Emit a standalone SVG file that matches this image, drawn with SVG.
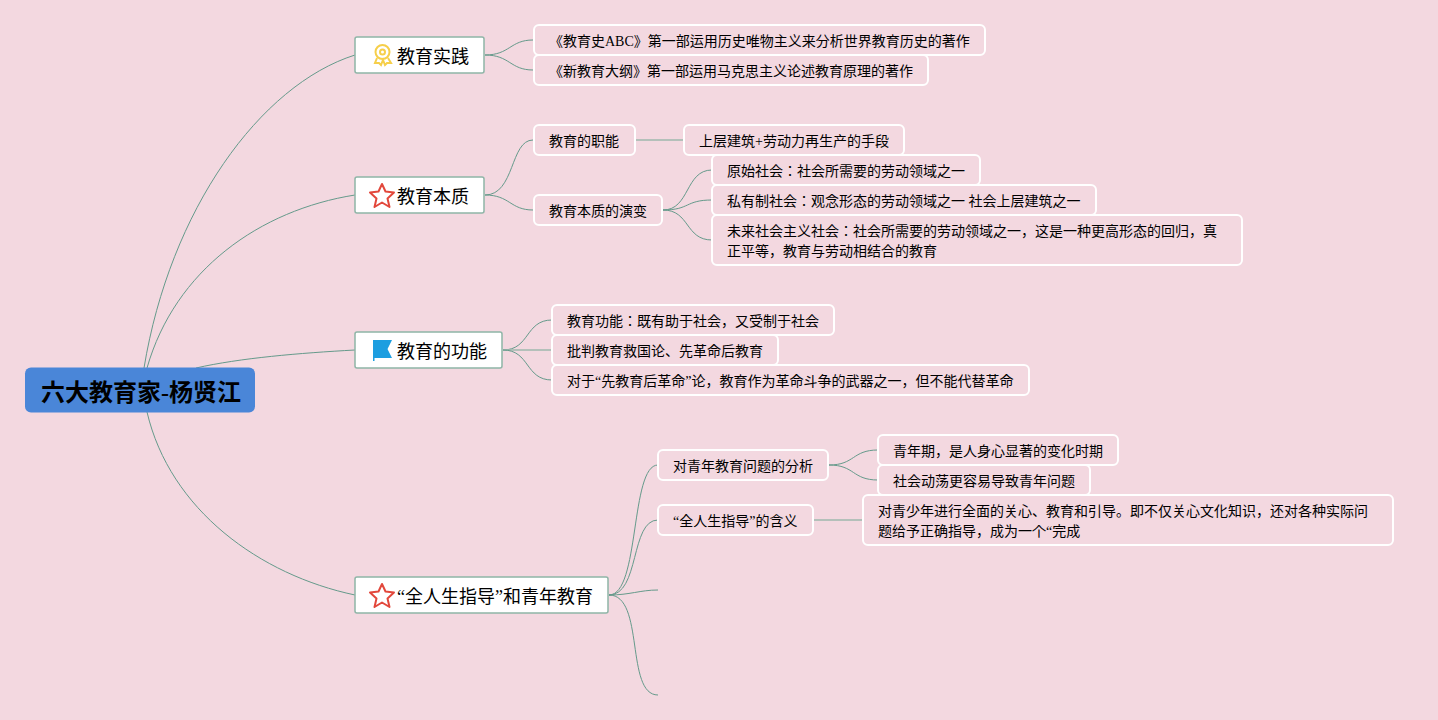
<svg xmlns="http://www.w3.org/2000/svg" width="1438" height="720" viewBox="0 0 1438 720">
<style>
text{font-family:"Liberation Serif","Noto Sans CJK JP","Noto Sans CJK SC",serif;fill:#000}
.root-t{font-size:24px;font-weight:700}
.main-t{font-size:18px}
.leaf-t{font-size:14px}
.main{fill:#fff;stroke:#8fb5a7;stroke-width:1.500}
.leaf{fill:#f3d8e0;stroke:#fff;stroke-width:2}
.c{fill:none;stroke:#659a8b;stroke-width:1}
.s{fill:none;stroke:#9fb8ae;stroke-width:1.500}
.star{fill:none;stroke:#e2483c;stroke-width:2;stroke-linejoin:round}
</style>
<rect width="1438" height="720" fill="#f3d8e0"/>
<g id="connectors">
<path class="c" d="M144 368C170 210 260 85 355 55"/>
<path class="c" d="M147 368C175 270 260 210 355 195"/>
<path class="c" d="M196 368C240 358 300 353 355 350"/>
<path class="c" d="M147 412C170 510 260 575 355 595"/>
<path class="c" d="M485 55C510 55 510 40 533 40"/>
<path class="c" d="M485 55C510 55 510 70 533 70"/>
<path class="c" d="M485 195C515 195 510 140 533 140"/>
<path class="c" d="M485 195C510 195 510 210 533 210"/>
<path class="s" d="M635 140H684"/>
<path class="c" d="M663 210C690 210 685 170 712 170"/>
<path class="c" d="M663 210C690 210 685 200 712 200"/>
<path class="c" d="M663 210C690 210 685 240 712 240"/>
<path class="c" d="M503 350C530 350 525 320 552 320"/>
<path class="s" d="M503 350H552"/>
<path class="c" d="M503 350C530 350 525 380 552 380"/>
<path class="c" d="M609 595C640 595 630 465 658 465"/>
<path class="c" d="M609 595C640 595 630 520 658 520"/>
<path class="c" d="M609 595C630 595 640 590 658 590"/>
<path class="c" d="M609 595C645 595 625 695 658 695"/>
<path class="c" d="M829 465C855 465 852 450 878 450"/>
<path class="c" d="M829 465C855 465 852 480 878 480"/>
<path class="s" d="M814 520H863"/>
</g>
<g id="root"><rect x="25" y="367.500" width="230" height="45" rx="6" fill="#4a86d8"/><text class="root-t" x="41" y="401">六大教育家-杨贤江</text></g>
<g id="n1"><rect class="main" x="355" y="37" width="129" height="36" rx="2"/>
<g fill="none" stroke="#f6cf4a" stroke-width="2"><circle cx="382.500" cy="52" r="7"/><circle cx="382.500" cy="52" r="2.500"/><path d="M377 58L375 63L379 63L381 65L383 60L385 65L387 63L391 63L388 58"/></g>
<text class="main-t" x="397" y="63">教育实践</text></g>
<g id="n2"><rect class="main" x="355" y="177" width="129" height="36" rx="2"/>
<path class="star" d="M382 184L385.500 191.500L394 192.500L387.500 198.500L389.500 207L382 202.500L374.500 207L376.500 198.500L370 192.500L378.500 191.500Z"/>
<text class="main-t" x="397" y="203">教育本质</text></g>
<g id="n3"><rect class="main" x="355" y="332" width="147" height="36" rx="2"/>
<path d="M373 340H392L387.500 349L392 358H374.500V361H373Z" fill="#1d9ee0"/>
<text class="main-t" x="397" y="358">教育的功能</text></g>
<g id="n4"><rect class="main" x="355" y="577" width="253" height="36" rx="2"/>
<path class="star" d="M382 584L385.500 591.500L394 592.500L387.500 598.500L389.500 607L382 602.500L374.500 607L376.500 598.500L370 592.500L378.500 591.500Z"/>
<text class="main-t" x="397" y="603">“全人生指导”和青年教育</text></g>
<g id="l1"><rect class="leaf" x="534" y="25" width="451" height="30" rx="5"/><text class="leaf-t" x="549" y="46">《教育史ABC》第一部运用历史唯物主义来分析世界教育历史的著作</text></g>
<g id="l2"><rect class="leaf" x="534" y="55" width="394" height="30" rx="5"/><text class="leaf-t" x="549" y="76">《新教育大纲》第一部运用马克思主义论述教育原理的著作</text></g>
<g id="l3"><rect class="leaf" x="534" y="125" width="101" height="30" rx="5"/><text class="leaf-t" x="549" y="146">教育的职能</text></g>
<g id="l4"><rect class="leaf" x="534" y="195" width="128" height="30" rx="5"/><text class="leaf-t" x="549" y="216">教育本质的演变</text></g>
<g id="l5"><rect class="leaf" x="684" y="125" width="220" height="30" rx="5"/><text class="leaf-t" x="699" y="146">上层建筑+劳动力再生产的手段</text></g>
<g id="l6"><rect class="leaf" x="712" y="155" width="268" height="30" rx="5"/><text class="leaf-t" x="727" y="176">原始社会：社会所需要的劳动领域之一</text></g>
<g id="l7"><rect class="leaf" x="712" y="185" width="384" height="30" rx="5"/><text class="leaf-t" x="727" y="206">私有制社会：观念形态的劳动领域之一 社会上层建筑之一</text></g>
<g id="l8"><rect class="leaf" x="712" y="215" width="530" height="50" rx="5"/><text class="leaf-t" x="727" y="236">未来社会主义社会：社会所需要的劳动领域之一，这是一种更高形态的回归，真</text><text class="leaf-t" x="727" y="256">正平等，教育与劳动相结合的教育</text></g>
<g id="l9"><rect class="leaf" x="552" y="305" width="282" height="30" rx="5"/><text class="leaf-t" x="567" y="326">教育功能：既有助于社会，又受制于社会</text></g>
<g id="l10"><rect class="leaf" x="552" y="335" width="226" height="30" rx="5"/><text class="leaf-t" x="567" y="356">批判教育救国论、先革命后教育</text></g>
<g id="l11"><rect class="leaf" x="552" y="365" width="477" height="30" rx="5"/><text class="leaf-t" x="567" y="386">对于“先教育后革命”论，教育作为革命斗争的武器之一，但不能代替革命</text></g>
<g id="l12"><rect class="leaf" x="658" y="450" width="170" height="30" rx="5"/><text class="leaf-t" x="673" y="471">对青年教育问题的分析</text></g>
<g id="l13"><rect class="leaf" x="658" y="505" width="155" height="30" rx="5"/><text class="leaf-t" x="673" y="526">“全人生指导”的含义</text></g>
<g id="l14"><rect class="leaf" x="878" y="435" width="240" height="30" rx="5"/><text class="leaf-t" x="893" y="456">青年期，是人身心显著的变化时期</text></g>
<g id="l15"><rect class="leaf" x="878" y="465" width="212" height="30" rx="5"/><text class="leaf-t" x="893" y="486">社会动荡更容易导致青年问题</text></g>
<g id="l16"><rect class="leaf" x="863" y="495" width="530" height="50" rx="5"/><text class="leaf-t" x="878" y="516">对青少年进行全面的关心、教育和引导。即不仅关心文化知识，还对各种实际问</text><text class="leaf-t" x="878" y="536">题给予正确指导，成为一个“完成</text></g>
</svg>
